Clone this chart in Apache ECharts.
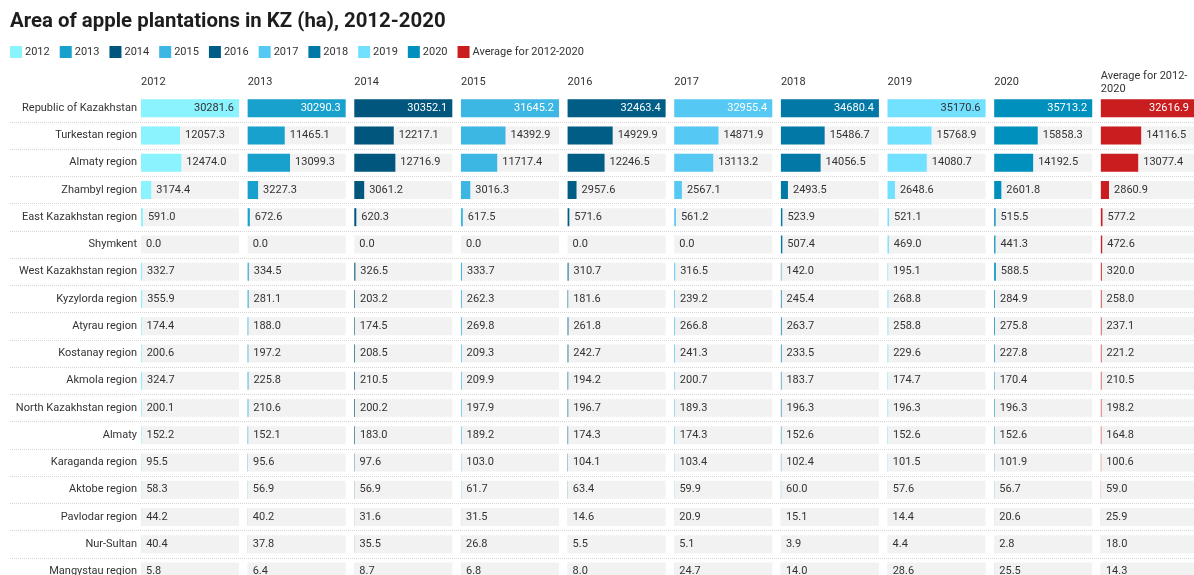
<!DOCTYPE html>
<html>
<head>
	<meta charset="UTF-8">
	<title>Area of apple plantations in KZ</title>
	<script src="https://cdn.jsdelivr.net/npm/echarts@6/dist/echarts.min.js"></script>
	<style>
		html, body { margin: 0; padding: 0; background: #fff; overflow: hidden; }
		/* taller than the window on purpose: the last row is cut off like in the original */
		#main { width: 1194px; height: 600px; }
	</style>
</head>
<body>
	<div id="main"></div>
	<script>
		// regions (rows) and columns
		var regions = ['Republic of Kazakhstan', 'Turkestan region', 'Almaty region', 'Zhambyl region',
			'East Kazakhstan region', 'Shymkent', 'West Kazakhstan region', 'Kyzylorda region',
			'Atyrau region', 'Kostanay region', 'Akmola region', 'North Kazakhstan region', 'Almaty',
			'Karaganda region', 'Aktobe region', 'Pavlodar region', 'Nur-Sultan', 'Mangystau region'];
		var columns = ['2012', '2013', '2014', '2015', '2016', '2017', '2018', '2019', '2020', 'Average for 2012-2020'];

		var v2012 = [30281.6, 12057.3, 12474.0, 3174.4, 591.0, 0.0, 332.7, 355.9, 174.4, 200.6, 324.7, 200.1, 152.2, 95.5, 58.3, 44.2, 40.4, 5.8];
		var v2013 = [30290.3, 11465.1, 13099.3, 3227.3, 672.6, 0.0, 334.5, 281.1, 188.0, 197.2, 225.8, 210.6, 152.1, 95.6, 56.9, 40.2, 37.8, 6.4];
		var v2014 = [30352.1, 12217.1, 12716.9, 3061.2, 620.3, 0.0, 326.5, 203.2, 174.5, 208.5, 210.5, 200.2, 183.0, 97.6, 56.9, 31.6, 35.5, 8.7];
		var v2015 = [31645.2, 14392.9, 11717.4, 3016.3, 617.5, 0.0, 333.7, 262.3, 269.8, 209.3, 209.9, 197.9, 189.2, 103.0, 61.7, 31.5, 26.8, 6.8];
		var v2016 = [32463.4, 14929.9, 12246.5, 2957.6, 571.6, 0.0, 310.7, 181.6, 261.8, 242.7, 194.2, 196.7, 174.3, 104.1, 63.4, 14.6, 5.5, 8.0];
		var v2017 = [32955.4, 14871.9, 13113.2, 2567.1, 561.2, 0.0, 316.5, 239.2, 266.8, 241.3, 200.7, 189.3, 174.3, 103.4, 59.9, 20.9, 5.1, 24.7];
		var v2018 = [34680.4, 15486.7, 14056.5, 2493.5, 523.9, 507.4, 142.0, 245.4, 263.7, 233.5, 183.7, 196.3, 152.6, 102.4, 60.0, 15.1, 3.9, 14.0];
		var v2019 = [35170.6, 15768.9, 14080.7, 2648.6, 521.1, 469.0, 195.1, 268.8, 258.8, 229.6, 174.7, 196.3, 152.6, 101.5, 57.6, 14.4, 4.4, 28.6];
		var v2020 = [35713.2, 15858.3, 14192.5, 2601.8, 515.5, 441.3, 588.5, 284.9, 275.8, 227.8, 170.4, 196.3, 152.6, 101.9, 56.7, 20.6, 2.8, 25.5];
		var vAvg  = [32616.9, 14116.5, 13077.4, 2860.9, 577.2, 472.6, 320.0, 258.0, 237.1, 221.2, 210.5, 198.2, 164.8, 100.6, 59.0, 25.9, 18.0, 14.3];

		var values = [v2012, v2013, v2014, v2015, v2016, v2017, v2018, v2019, v2020, vAvg];
		var colors = ['#8af3fe', '#18a1cd', '#00567c', '#3cb6e3', '#005e86', '#55c8f4', '#0178a5', '#72e0ff', '#0090be', '#c91d1f'];
		var insideText = ['#333', '#fff', '#fff', '#fff', '#fff', '#fff', '#fff', '#333', '#fff', '#fff'];

		var myChart = echarts.init(document.getElementById('main'));

		var panelLeft = 141, panelStep = 106.65, panelW = 98;
		var rowTop = 94.6, rowH = 27.25;
		var font = 'Roboto, Arial, sans-serif';

		var grids = [], xAxes = [], yAxes = [], series = [], titles = [];

		titles.push({
			text: 'Area of apple plantations in KZ (ha), 2012-2020',
			left: 10, top: 12, padding: 0,
			textStyle: { fontFamily: font, fontSize: 20.4, fontWeight: 'bold', color: '#1d1d1d' }
		});

		for (var i = 0; i < columns.length; i++) {
			var left = panelLeft + i * panelStep;
			var max = Math.max.apply(null, values[i]);
			grids.push({ left: left, top: rowTop, width: panelW, height: rowH * regions.length });
			xAxes.push({ type: 'value', gridIndex: i, min: 0, max: max, show: false });
			yAxes.push({
				type: 'category', gridIndex: i, data: regions, inverse: true,
				show: i === 0,
				axisLine: { show: false }, axisTick: { show: false }, splitLine: { show: false },
				axisLabel: { show: i === 0, margin: 4, fontFamily: font, fontSize: 11, color: '#333' }
			});
			var col = i;
			series.push({
				name: columns[i],
				type: 'bar',
				xAxisIndex: i, yAxisIndex: i,
				barWidth: 18,
				showBackground: true,
				backgroundStyle: { color: '#f2f2f2' },
				itemStyle: { color: colors[i] },
				data: values[i].map(function (v) {
					var s = v.toFixed(1);
					var barPx = v / max * panelW;
					var inside = barPx > s.length * 6.2 + 12;
					return {
						value: v,
						label: {
							show: true,
							position: inside ? 'insideRight' : 'right',
							distance: 5,
							formatter: s,
							fontFamily: font, fontSize: 11,
							color: inside ? insideText[col] : '#333'
						}
					};
				})
			});
			titles.push({
				text: i === columns.length - 1 ? 'Average for 2012-\n2020' : columns[i],
				left: left, top: i === columns.length - 1 ? 70 : 75.5, padding: 0,
				textStyle: { fontFamily: font, fontSize: 11, fontWeight: 'normal', color: '#333', lineHeight: 13 }
			});
		}

		// full-width grid only for the dotted row separators
		var sep = columns.length;
		grids.push({ left: 10, top: rowTop, width: 1200, height: rowH * regions.length });
		xAxes.push({ type: 'value', gridIndex: sep, show: false });
		yAxes.push({
			type: 'category', gridIndex: sep, data: regions, inverse: true,
			axisLine: { show: false }, axisTick: { show: false }, axisLabel: { show: false },
			splitLine: {
				show: true,
				interval: function (index) { return index > 0; },
				lineStyle: { color: '#d6d6d6', type: 'dotted', width: 1 }
			}
		});

		var option = {
			backgroundColor: '#fff',
			animation: false,
			title: titles,
			legend: {
				left: 10, top: 46, padding: 0,
				itemWidth: 12, itemHeight: 12, itemGap: 10,
				icon: 'rect',
				data: columns,
				textStyle: { fontFamily: font, fontSize: 11, color: '#333', padding: [0, 0, 0, -2] }
			},
			grid: grids,
			xAxis: xAxes,
			yAxis: yAxes,
			series: series
		};
		myChart.setOption(option);
	</script>
</body>
</html>
